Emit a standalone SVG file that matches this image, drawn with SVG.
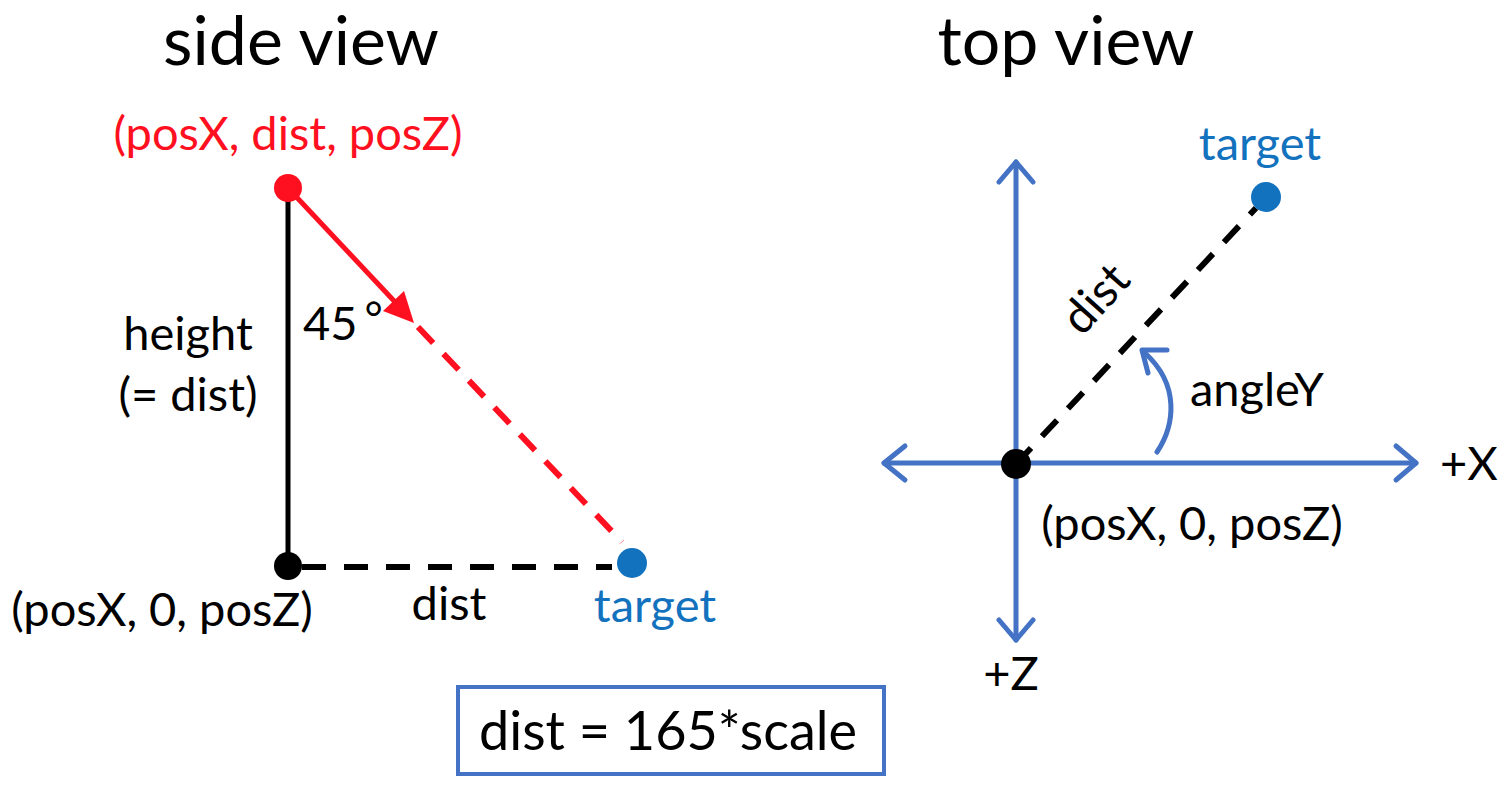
<svg xmlns="http://www.w3.org/2000/svg" width="1504" height="797" viewBox="0 0 1504 797">
<style>
text{font-family:Lato,"Open Sans","Liberation Sans",sans-serif;fill:#000}
.title{font-size:68px;text-anchor:middle}
.lbl{font-size:47px}
.red{fill:#FF1020}
.blue{fill:#1372BE}
.axis{stroke:#4472C4;stroke-width:5;fill:none;stroke-linecap:round;stroke-linejoin:round}
</style>
<rect width="1504" height="797" fill="#fff"/>
<text class="title" x="301" y="65">side view</text>
<text class="title" x="1066" y="65">top view</text>

<g id="connectors">
  <line x1="288" y1="188" x2="288" y2="566" stroke="#000" stroke-width="5"/>
  <line x1="302" y1="567" x2="612" y2="567" stroke="#000" stroke-width="6" stroke-dasharray="24 18"/>
  <line x1="288" y1="188" x2="396" y2="303" stroke="#FF1020" stroke-width="5"/>
  <polygon points="414,323 383,311 404,291" fill="#FF1020"/>
  <line x1="418" y1="327" x2="622" y2="542" stroke="#FF1020" stroke-width="6" stroke-dasharray="22 15"/>
  <line x1="1016" y1="464" x2="1256" y2="208" stroke="#000" stroke-width="6" stroke-dasharray="22 16"/>
  <line class="axis" x1="1016" y1="162" x2="1016" y2="640"/>
  <polyline class="axis" points="999,182 1016,162 1033,182"/>
  <polyline class="axis" points="999,620 1016,640 1033,620"/>
  <line class="axis" x1="884" y1="463" x2="1416" y2="463"/>
  <polyline class="axis" points="905,446 884,463 905,480"/>
  <polyline class="axis" points="1396,446 1416,463 1396,480"/>
  <path class="axis" d="M1157,452 C1175,425 1180,385 1145,353"/>
  <polyline class="axis" points="1167,350 1142,350 1148,373"/>
</g>

<g id="side-top">
  <circle cx="288" cy="188" r="14" fill="#FF1020"/>
  <text class="lbl red" x="288" y="150" text-anchor="middle">(posX, dist, posZ)</text>
</g>
<g id="side-origin">
  <circle cx="288" cy="566" r="14" fill="#000"/>
  <text class="lbl" x="162" y="626" text-anchor="middle">(posX, 0, posZ)</text>
</g>
<g id="side-target">
  <circle cx="632" cy="563" r="15" fill="#1372BE"/>
  <text class="lbl blue" x="655" y="622" text-anchor="middle">target</text>
</g>
<g id="side-labels">
  <text class="lbl" x="188" y="350" text-anchor="middle">height</text>
  <text class="lbl" x="188" y="411" text-anchor="middle">(= dist)</text>
  <text class="lbl" x="303" y="340">45<tspan dx="7" dy="-6" font-size="44">°</tspan></text>
  <text class="lbl" x="449" y="620" text-anchor="middle">dist</text>
</g>
<g id="formula">
  <rect x="458" y="687" width="426" height="87" fill="none" stroke="#4472C4" stroke-width="4"/>
  <text x="668" y="750" font-size="54" text-anchor="middle">dist = 165*scale</text>
</g>

<g id="top-origin">
  <circle cx="1016" cy="464" r="15" fill="#000"/>
  <text class="lbl" x="1192" y="540" text-anchor="middle">(posX, 0, posZ)</text>
</g>
<g id="top-target">
  <circle cx="1266" cy="197" r="15" fill="#1372BE"/>
  <text class="lbl blue" x="1260" y="160" text-anchor="middle">target</text>
</g>
<g id="top-labels">
  <text class="lbl" x="1097" y="314" text-anchor="middle" transform="rotate(-48 1097 300)">dist</text>
  <text class="lbl" x="1190" y="406">angleY</text>
  <text class="lbl" x="1440" y="480">+X</text>
  <text class="lbl" x="1011" y="690" text-anchor="middle">+Z</text>
</g>
</svg>
